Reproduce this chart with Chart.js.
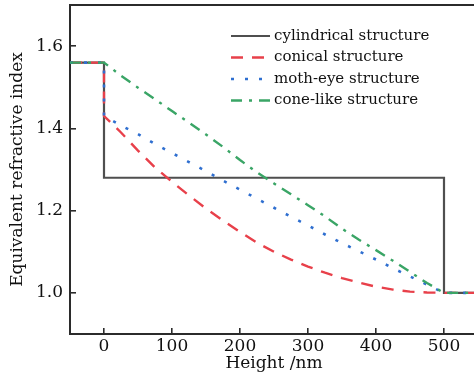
<!DOCTYPE html>
<html>
<head>
<meta charset="utf-8">
<script src="https://cdn.jsdelivr.net/npm/chart.js@4/dist/chart.umd.min.js"></script>
<style>
  html, body { margin: 0; padding: 0; background: #fff; overflow: hidden; }
  #wrap { width: 474px; height: 377px; overflow: hidden; }
</style>
</head>
<body>
<div id="wrap"><canvas id="chart" width="480" height="377"></canvas></div>
<script>
// Dados
var seriesNames = ['cylindrical structure', 'conical structure', 'moth-eye structure', 'cone-like structure']

var heightCyl = [-50, 0, 0, 500, 500, 550]
var nCylindrical = [1.56, 1.56, 1.28, 1.28, 1.0, 1.0]

var heightCurve = [-50, 0, 0, 25, 50, 75, 100, 125, 150, 175, 200, 225, 250, 275, 300, 325, 350, 375, 400, 425, 450, 475, 500, 550]
var nConical = [1.56, 1.56, 1.43, 1.39, 1.346, 1.305, 1.27, 1.237, 1.205, 1.176, 1.148, 1.122, 1.1, 1.081, 1.064, 1.049, 1.036, 1.025, 1.015, 1.008, 1.003, 1.001, 1.0, 1.0]
var nMothEye = [1.56, 1.56, 1.43, 1.407, 1.386, 1.362, 1.34, 1.318, 1.296, 1.273, 1.251, 1.229, 1.207, 1.185, 1.164, 1.142, 1.121, 1.101, 1.081, 1.06, 1.04, 1.02, 1.0, 1.0]
var nConeLike = [1.56, 1.56, 1.56, 1.528, 1.499, 1.471, 1.442, 1.414, 1.385, 1.355, 1.323, 1.293, 1.266, 1.24, 1.213, 1.186, 1.156, 1.129, 1.104, 1.078, 1.051, 1.024, 1.0, 1.0]

var xTicks = [0, 100, 200, 300, 400, 500]
var yTicks = [1.0, 1.2, 1.4, 1.6]

// Cores
var colorCyl = '#4f4f4f'
var colorConical = '#e8404a'
var colorMoth = '#2f6fd0'
var colorCone = '#3aa566'
var axisColor = '#2b2b2b'
var fontFamily = '"DejaVu Serif", serif'

function toPoints(xs, ys) {
  return xs.map((x, i) => ({ x: x, y: ys[i] }))
}

// Legenda dentro da área do gráfico
var insideLegend = {
  id: 'insideLegend',
  afterDraw(chart) {
    var ctx = chart.ctx
    var area = chart.chartArea
    ctx.save()
    // borda superior
    ctx.strokeStyle = axisColor
    ctx.lineWidth = 2
    ctx.beginPath()
    ctx.moveTo(area.left, area.top)
    ctx.lineTo(area.right, area.top)
    ctx.stroke()

    ctx.font = '15px ' + fontFamily
    ctx.textBaseline = 'middle'
    ctx.textAlign = 'left'
    chart.data.datasets.forEach((ds, i) => {
      var y = area.top + 31 + i * 21.5
      var x0 = area.left + 161
      ctx.strokeStyle = ds.borderColor
      ctx.lineWidth = ds.borderWidth
      ctx.setLineDash(ds.borderDash || [])
      ctx.beginPath()
      ctx.moveTo(x0, y)
      ctx.lineTo(x0 + 39, y)
      ctx.stroke()
      ctx.setLineDash([])
      ctx.fillStyle = '#111'
      ctx.fillText(ds.label, x0 + 43, y)
    })
    ctx.restore()
  }
}

window.onload = function () {
  var el = document.getElementById('chart')

  new Chart(el, {
    type: 'line',
    data: {
      datasets: [
        { label: seriesNames[0], data: toPoints(heightCyl, nCylindrical), borderColor: colorCyl, borderWidth: 2.2, order: 4 },
        { label: seriesNames[1], data: toPoints(heightCurve, nConical), borderColor: colorConical, borderWidth: 2.4, borderDash: [12, 9], order: 3 },
        { label: seriesNames[2], data: toPoints(heightCurve, nMothEye), borderColor: colorMoth, borderWidth: 2.6, borderDash: [3, 11], order: 2 },
        { label: seriesNames[3], data: toPoints(heightCurve, nConeLike), borderColor: colorCone, borderWidth: 2.4, borderDash: [11, 7, 3, 7], order: 1 }
      ]
    },
    options: {
      responsive: false,
      animation: false,
      devicePixelRatio: 1,
      layout: { padding: { top: 5, right: 2, left: 0, bottom: 0 } },
      elements: { point: { radius: 0 }, line: { tension: 0, fill: false } },
      plugins: { legend: { display: false }, tooltip: { enabled: false } },
      scales: {
        x: {
          type: 'linear',
          min: -50,
          max: 550,
          afterBuildTicks: (scale) => { scale.ticks = xTicks.map(v => ({ value: v })) },
          afterFit: (scale) => { scale.height = 43; scale.paddingLeft = 0; scale.paddingRight = 0 },
          border: { color: axisColor, width: 2 },
          grid: { drawOnChartArea: false, color: axisColor, lineWidth: 1.6, tickLength: -6 },
          ticks: { color: '#111', font: { family: fontFamily, size: 17 }, padding: 8, maxRotation: 0 },
          title: { display: true, text: 'Height /nm', color: '#111', font: { family: fontFamily, size: 17 }, padding: { top: 0, bottom: 3 } }
        },
        y: {
          min: 0.9,
          max: 1.7,
          afterBuildTicks: (scale) => { scale.ticks = yTicks.map(v => ({ value: v })) },
          afterFit: (scale) => { scale.width = 70; scale.paddingTop = 0; scale.paddingBottom = 0 },
          border: { color: axisColor, width: 2 },
          grid: { drawOnChartArea: false, color: axisColor, lineWidth: 1.6, tickLength: -6 },
          ticks: { color: '#111', font: { family: fontFamily, size: 17 }, padding: 13, callback: (v) => Number(v).toFixed(1) },
          title: { display: true, text: 'Equivalent refractive index', color: '#111', font: { family: fontFamily, size: 17 }, padding: { top: 7, bottom: 0 } }
        }
      }
    },
    plugins: [insideLegend]
  })
}
</script>
</body>
</html>
